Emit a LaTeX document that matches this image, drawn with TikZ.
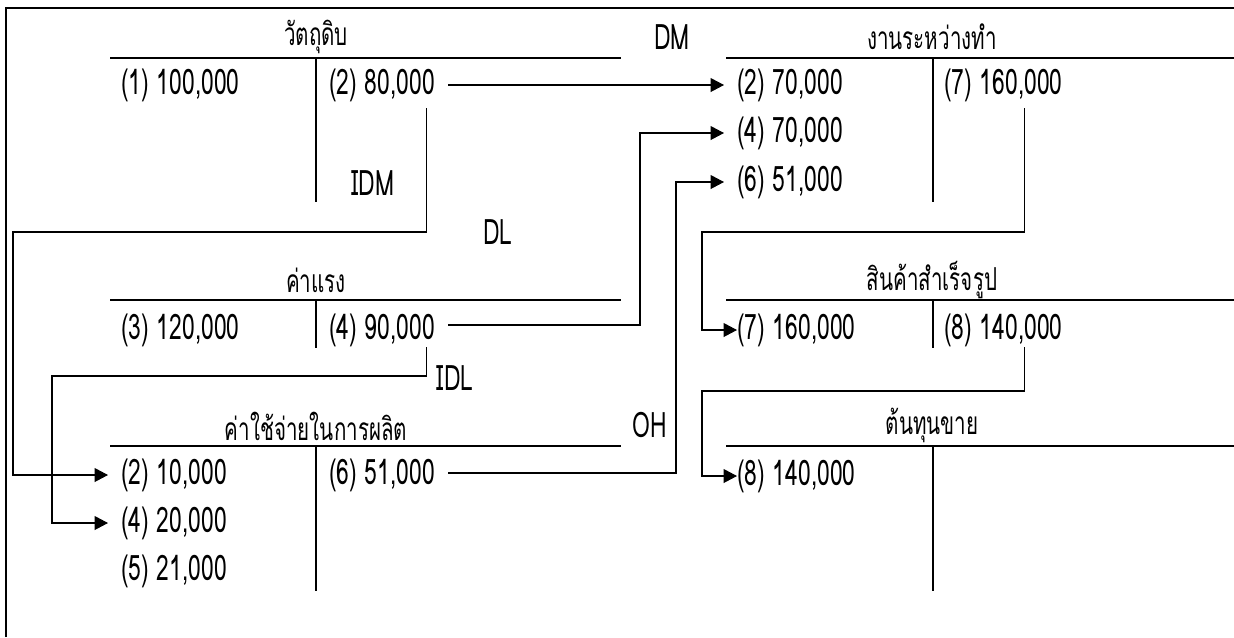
\documentclass[tikz,border=0pt]{standalone}
\usepackage{fontspec}
\newfontfamily\thaifont[Script=Thai, FakeStretch=0.65]{Loma}
\usetikzlibrary{arrows.meta, calc, positioning}

\tikzset{
  tline/.style={line width=0.75pt, black},
  flow/.style={line width=0.6pt, -{Triangle[length=0.27cm, width=0.28cm]}},
  entry/.style={anchor=west, inner sep=0pt, font=\thaifont\fontsize{20}{22}\selectfont},
  acctitle/.style={inner sep=0pt, font=\thaifont\fontsize{18}{20}\selectfont},
  flowlabel/.style={inner sep=0pt, font=\thaifont\fontsize{20}{22}\selectfont}
}

\begin{document}
\begin{tikzpicture}[x=0.02cm, y=-0.02cm, line cap=butt, line join=miter]
  \useasboundingbox (0,0) rectangle (1234,637);

  % Frame
  \draw[line width=1.3pt] (6,637) -- (6,8) -- (1234,8);

  % Raw materials
  \node[acctitle] (rmT) at (316,37) {วัตถุดิบ};
  \draw[tline] (110,58) -- (621,58);
  \draw[tline] (316,58) -- (316,202);
  \node[entry] (rm1) at (121,85) {(1) 100,000};
  \node[entry] (rm2) at (329,85) {(2) 80,000};

  % Work in process
  \node[acctitle] (wipT) at (932,37) {งานระหว่างทำ};
  \draw[tline] (726,58) -- (1234,58);
  \draw[tline] (933,58) -- (933,202);
  \node[entry] (wip2) at (737,85) {(2) 70,000};
  \node[entry] (wip4) at (737,133) {(4) 70,000};
  \node[entry] (wip6) at (737,182) {(6) 51,000};
  \node[entry] (wip7) at (944,85) {(7) 160,000};

  % Labour
  \node[acctitle] (labT) at (316,280) {ค่าแรง};
  \draw[tline] (110,300) -- (621,300);
  \draw[tline] (316,300) -- (316,348);
  \node[entry] (lab3) at (121,330) {(3) 120,000};
  \node[entry] (lab4) at (329,330) {(4) 90,000};

  % Finished goods
  \node[acctitle] (fgT) at (932,280) {สินค้าสำเร็จรูป};
  \draw[tline] (726,300) -- (1234,300);
  \draw[tline] (933,300) -- (933,348);
  \node[entry] (fg7) at (737,330) {(7) 160,000};
  \node[entry] (fg8) at (944,330) {(8) 140,000};

  % Overhead
  \node[acctitle] (ohT) at (316,426) {ค่าใช้จ่ายในการผลิต};
  \draw[tline] (110,446) -- (621,446);
  \draw[tline] (316,446) -- (316,591);
  \node[entry] (oh2) at (121,475) {(2) 10,000};
  \node[entry] (oh4) at (121,523) {(4) 20,000};
  \node[entry] (oh5) at (121,571) {(5) 21,000};
  \node[entry] (oh6) at (329,475) {(6) 51,000};

  % Cost of sales
  \node[acctitle] (cogsT) at (932,425) {ต้นทุนขาย};
  \draw[tline] (726,446) -- (1234,446);
  \draw[tline] (933,446) -- (933,591);
  \node[entry] (cogs8) at (737,476) {(8) 140,000};

  % Flow labels
  \node[flowlabel] (dmL) at (672,37) {DM};
  \node[flowlabel] (idmL) at (373,183) {IDM};
  \node[flowlabel] (dlL) at (498,232) {DL};
  \node[flowlabel] (idlL) at (455,378) {IDL};
  \node[flowlabel] (ohL) at (650,425) {OH};

  % Rails for the bent connectors
  \coordinate (idmrail) at (13,232);
  \coordinate (idlrail) at (52,376);
  \coordinate (fgrail) at (702,232);
  \coordinate (cogsrail) at (702,391);

  % Connectors
  \draw[flow] ($(rm2.east)+(13,0)$) -- ($(wip2.west)+(-13,0)$);
  \draw[flow] ($(rm2.east)+(-9,23)$) |- (idmrail) |- ($(oh2.west)+(-13,0)$);
  \draw[flow] ($(lab4.east)+(13,-5)$) -| ($(wip4.west)+(-97,0)$) -- ($(wip4.west)+(-13,0)$);
  \draw[flow] ($(lab4.east)+(-9,17)$) |- (idlrail) |- ($(oh4.west)+(-13,0)$);
  \draw[flow] ($(oh6.east)+(13,-2)$) -| ($(wip6.west)+(-61,0)$) -- ($(wip6.west)+(-13,0)$);
  \draw[flow] ($(wip7.east)+(-38,23)$) |- (fgrail) |- (fg7.west);
  \draw[flow] ($(fg8.east)+(-38,17)$) |- (cogsrail) |- (cogs8.west);
\end{tikzpicture}
\end{document}
